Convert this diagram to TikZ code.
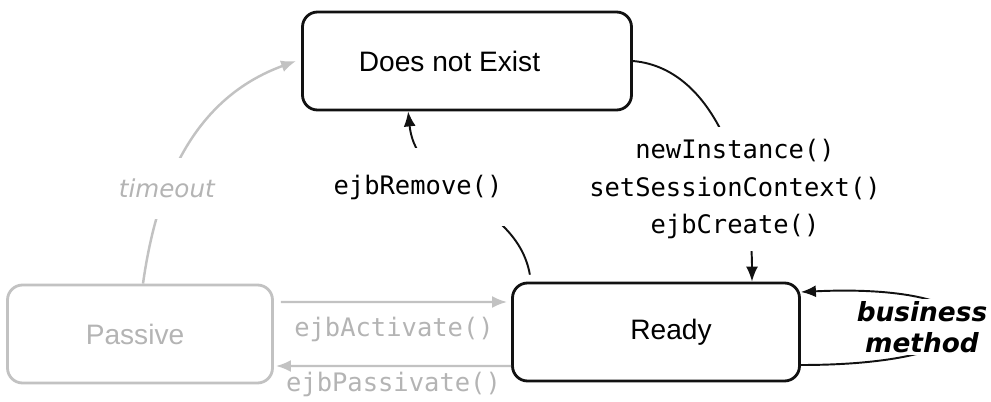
\documentclass[tikz,border=0pt]{standalone}
\usepackage{fontspec}
\setmainfont{Liberation Sans}
\setmonofont{DejaVu Sans Mono}
\newfontfamily\notefont{DejaVu Sans}
\usetikzlibrary{arrows.meta,positioning,calc}
\definecolor{inkblack}{HTML}{111111}
\definecolor{fadegray}{HTML}{C2C2C2}
\definecolor{fadetext}{HTML}{B4B4B4}

\begin{document}
\begin{tikzpicture}[
  state/.style={draw=inkblack, line width=1.6pt, rounded corners=0.3cm, fill=white, minimum height=1.96cm, align=center, font=\fontsize{16}{19}\selectfont},
  faded/.style={state, draw=fadegray, text=fadetext},
  call/.style={font=\ttfamily\fontsize{14.5}{21.5}\selectfont, align=center, inner sep=1pt},
  arrow/.style={-{Latex[length=3mm,width=2.4mm]}, line width=1.1pt, color=inkblack},
  fadearrow/.style={-{Latex[length=3mm,width=2.4mm]}, line width=1.4pt, color=fadegray}
]
  \useasboundingbox (0,0) rectangle (19.82,8.02);

  \node[state, minimum width=6.58cm] (gone) at (9.34,6.80) {Does not Exist\hspace*{0.7cm}};
  \node[state, minimum width=5.74cm] (ready) at (13.12,1.38) {\hspace*{0.6cm}Ready};
  \node[faded, minimum width=5.30cm] (passive) at (2.80,1.34) {Passive\hspace*{0.2cm}};

  \draw[fadearrow] ([shift={(0.14,0.64)}]passive.east) -- node[below=7pt, call, text=fadetext]{ejbActivate()} ([shift={(-0.08,0.60)}]ready.west);
  \draw[fadearrow] ([yshift=-0.68cm]ready.west) -- node[below=2pt, call, text=fadetext]{ejbPassivate()} ([shift={(0.04,-0.64)}]passive.east);
  \draw[fadearrow] ([xshift=0.06cm]passive.north) to[out=82, in=200] node[pos=0.33, fill=white, inner xsep=3pt, inner ysep=12pt, text=fadetext, font=\notefont\itshape\fontsize{14}{16}\selectfont]{timeout} ([xshift=-0.1cm]gone.west);

  \draw[arrow, shorten <=4pt] ([xshift=0.4cm]ready.north west) to[out=100, in=-84] ([xshift=2.14cm]gone.south west);
  \node[call, fill=white, inner xsep=3pt, inner ysep=15pt] (removecall) at (8.36,4.28) {ejbRemove()};

  \draw[arrow] (gone.east) to[out=-5, in=90, looseness=0.9] ([xshift=1.92cm]ready.north);
  \node[call, fill=white, inner ysep=7pt] (createcalls) at (14.70,4.24) {newInstance()\\setSessionContext()\\ejbCreate()};

  \draw[arrow] ([yshift=-0.66cm]ready.east) .. controls +(4.4,0) and +(4.2,0.2) .. ([yshift=0.8cm]ready.east);
  \node[fill=white, inner sep=1pt, align=center, font=\notefont\bfseries\itshape\fontsize{15}{18}\selectfont] (business) at (18.44,1.48) {business\\method};
\end{tikzpicture}
\end{document}
